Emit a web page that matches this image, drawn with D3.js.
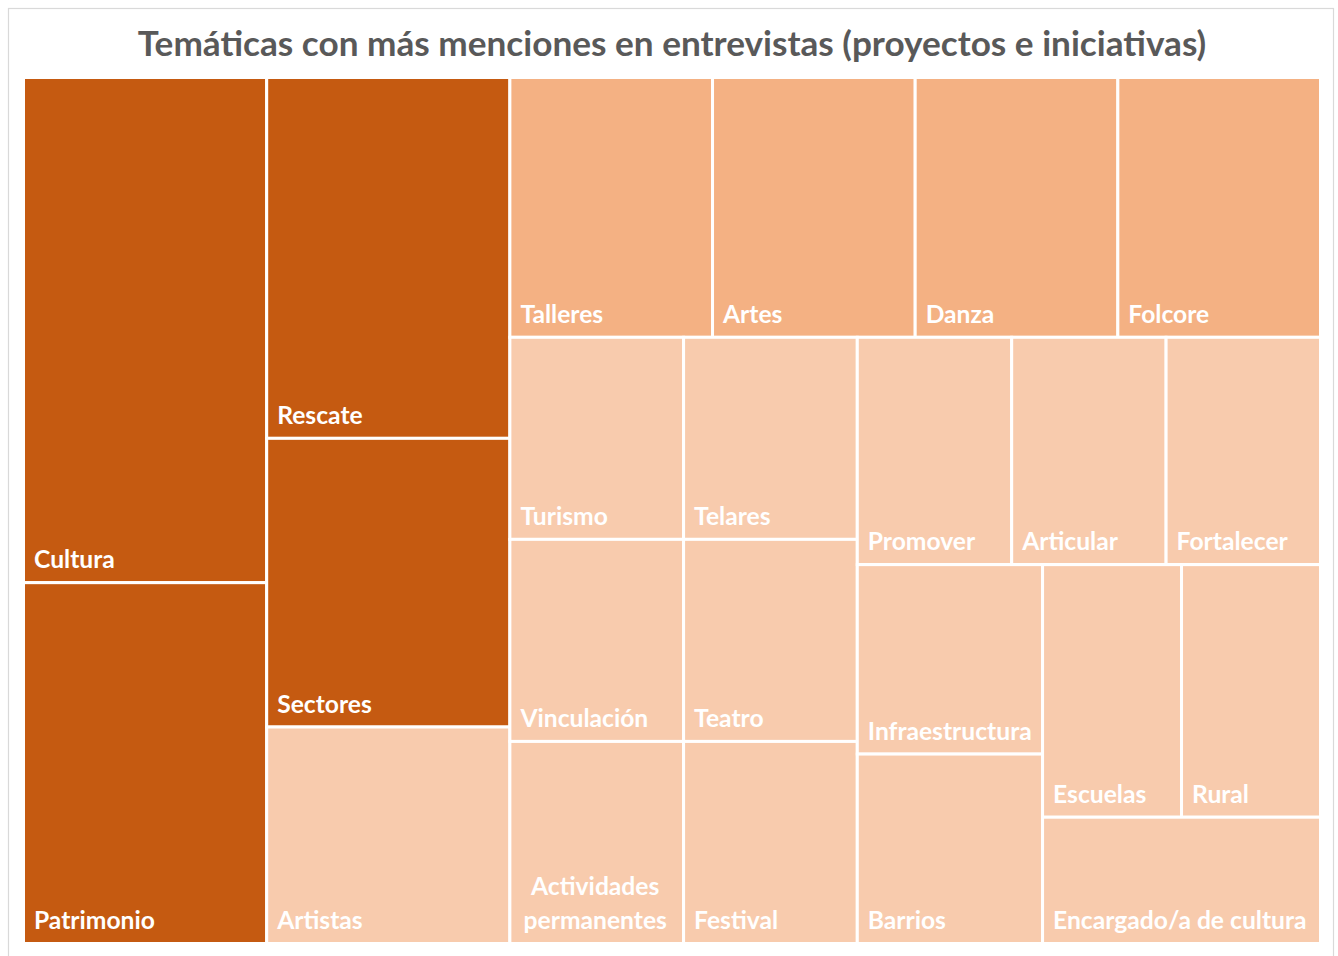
<!DOCTYPE html>
<html><head><meta charset="utf-8">
<script src="https://cdn.jsdelivr.net/npm/d3@7"></script>
<style>body{margin:0;background:#fff;} svg{display:block;}</style>
</head><body>
<svg id="chart" width="1338" height="956"></svg>
<script>
// ---- data ----
const title = "Temáticas con más menciones en entrevistas (proyectos e iniciativas)";
const categories = ["Cultura","Patrimonio","Rescate","Sectores","Artistas",
  "Talleres","Artes","Danza","Folcore",
  "Turismo","Vinculación","Actividades permanentes",
  "Telares","Teatro","Festival",
  "Promover","Articular","Fortalecer",
  "Infraestructura","Barrios","Escuelas","Rural","Encargado/a de cultura"];
const mentions = [7,5,5,4,3, 3,3,3,3, 2,2,2, 2,2,2, 2,2,2, 2,2,2,2,2];
const tiers = ["alta","alta","alta","alta","baja",
  "media","media","media","media",
  "baja","baja","baja","baja","baja","baja","baja","baja","baja",
  "baja","baja","baja","baja","baja"];

// ---- layout / style config ----
const rowLengths = [2,3,4,3,3,3,2,2,1]; // items per strip (Excel-like tiling)
const tierColor = {alta:"#C55A11", media:"#F4B183", baja:"#F8CBAD"};
const W = 1338, H = 956;
const plot = {x0:23.5, y0:77.5, x1:1320.5, y1:943.5};

const svg = d3.select("#chart");

// chart border
svg.append("rect").attr("x",8.5).attr("y",8.5).attr("width",1325).attr("height",980)
  .attr("fill","#fff").attr("stroke","#d9d9d9").attr("stroke-width",1.2);

// title
const t = svg.append("text").attr("x",672).attr("y",56).attr("text-anchor","middle")
  .attr("font-family","Lato, 'Open Sans', sans-serif").attr("font-weight","bold")
  .attr("font-size",32).attr("fill","#595959").text(title);
const tw = t.node().getComputedTextLength();
t.attr("font-size", 32*1069/tw);

function excelTile(parent, x0, y0, x1, y1) {
  const nodes = parent.children;
  let value = parent.value, i = 0;
  for (const len of rowLengths) {
    const kids = nodes.slice(i, i+len);
    const sum = d3.sum(kids, d => d.value);
    const row = {children: kids, value: sum};
    const dx = x1 - x0, dy = y1 - y0;
    if (dx < dy) {
      const ny = value ? y0 + dy*sum/value : y1;
      d3.treemapDice(row, x0, y0, x1, ny); y0 = ny;
    } else {
      const nx = value ? x0 + dx*sum/value : x1;
      d3.treemapSlice(row, x0, y0, nx, y1); x0 = nx;
    }
    value -= sum; i += len;
  }
}

const root = d3.hierarchy({children: categories.map((c,i)=>({name:c, value:mentions[i], tier:tiers[i]}))})
  .sum(d => d.value || 0);
d3.treemap().tile(excelTile).size([plot.x1-plot.x0, plot.y1-plot.y0])(root);

const g = svg.append("g").attr("transform",`translate(${plot.x0},${plot.y0})`);
const cells = g.selectAll("g.cell").data(root.leaves()).join("g").attr("class","cell");
cells.append("rect")
  .attr("x", d=>d.x0).attr("y", d=>d.y0)
  .attr("width", d=>d.x1-d.x0).attr("height", d=>d.y1-d.y0)
  .attr("fill", d=>tierColor[d.data.tier]).attr("stroke","#fff").attr("stroke-width",3);

// label font size fit
const probe = svg.append("text").attr("font-family","Lato, 'Open Sans', sans-serif")
  .attr("font-weight","bold").attr("font-size",24).text("Patrimonio");
const fs = 24*121/probe.node().getComputedTextLength();
probe.remove();

cells.each(function(d){
  const cell = d3.select(this);
  const txt = cell.append("text").attr("font-family","Lato, 'Open Sans', sans-serif")
    .attr("font-weight","bold").attr("font-size",fs).attr("fill","#fff");
  txt.text(d.data.name);
  const avail = d.x1 - d.x0 - 18;
  const bottom = d.y1 - 1.5 - 13;
  if (txt.node().getComputedTextLength() > avail) {
    const words = d.data.name.split(" ");
    txt.text(null);
    const cx = (d.x0 + d.x1)/2 - 1.5;
    const lh = fs*1.38;
    words.forEach((w,k)=>{
      txt.append("tspan").attr("x",cx).attr("y", bottom - (words.length-1-k)*lh)
        .attr("text-anchor","middle").text(w);
    });
  } else {
    txt.attr("x", d.x0 + 1.5 + 9).attr("y", bottom);
  }
});
</script>
</body></html>
